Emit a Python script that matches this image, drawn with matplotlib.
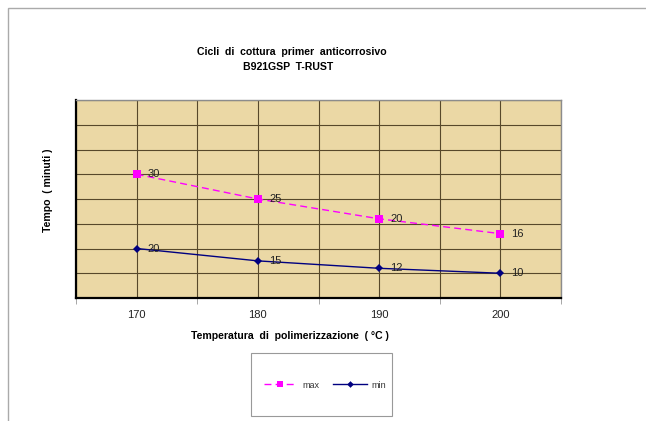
import numpy as np
import matplotlib.pyplot as plt
from matplotlib.patches import Rectangle

plt.switch_backend('Agg')
plt.rcParams['font.family'] = ['Liberation Sans', 'DejaVu Sans']

# dati
temperature = ['170', '180', '190', '200']
tempo_max = [30, 25, 20, 16]
tempo_min = [20, 15, 12, 10]

# grafico a linee in pila (come Excel): la serie max si somma alla min
x = np.arange(len(temperature))
y_min = np.array(tempo_min)
y_max = y_min + np.array(tempo_max)

W, H = 646, 421
fig = plt.figure(figsize=(W / 100, H / 100), dpi=100)
ax = fig.add_axes([76 / W, 1 - 298 / H, 485 / W, 198 / H])

ax.set_facecolor('#ebd8a5')
ax.plot(x, y_max, color='#ff00ff', linestyle=(0, (5, 3)), linewidth=1,
        marker='s', markersize=5.5, markeredgewidth=0, label='max', zorder=3)
ax.plot(x, y_min, color='#000080', linewidth=1,
        marker='D', markersize=4.5, markeredgewidth=0, label='min', zorder=3)

for xi, yv, lab in zip(x, y_max, tempo_max):
    ax.annotate(str(lab), (xi, yv), xytext=(8, 0), textcoords='offset points',
                va='center', ha='left', fontsize=8, color='#222222')
for xi, yv, lab in zip(x, y_min, tempo_min):
    ax.annotate(str(lab), (xi, yv), xytext=(8, 0), textcoords='offset points',
                va='center', ha='left', fontsize=8, color='#222222')

ax.set_xlim(-0.5, len(temperature) - 0.5)
ax.set_ylim(0, 80)
ax.set_xticks(x)
ax.set_xticklabels(temperature, fontsize=8, color='#222222')
ax.set_xticks(np.arange(-0.5, len(temperature)), minor=True)
ax.tick_params(axis='x', which='major', length=0, pad=9)
ax.tick_params(axis='x', which='minor', length=4, color='#999999')
ax.set_yticks(np.arange(0, 81, 10))
ax.tick_params(axis='y', length=0, labelleft=False)

ax.grid(True, which='both', axis='x', color='#57482a', linewidth=0.8)
ax.grid(True, axis='y', color='#57482a', linewidth=0.8)
ax.set_axisbelow(True)

for side in ['top', 'right']:
    ax.spines[side].set_color('#8c8c8c')
    ax.spines[side].set_linewidth(1)
for side in ['left', 'bottom']:
    ax.spines[side].set_color('black')
    ax.spines[side].set_linewidth(1.6)

fig.text(292 / W, 1 - 52 / H, 'Cicli  di  cottura  primer  anticorrosivo',
         ha='center', va='center', fontsize=7.6, fontweight='bold')
fig.text(288 / W, 1 - 67 / H, 'B921GSP  T-RUST',
         ha='center', va='center', fontsize=7.6, fontweight='bold')
fig.text(290 / W, 1 - 336 / H, 'Temperatura  di  polimerizzazione  ( °C )',
         ha='center', va='center', fontsize=7.6, fontweight='bold')
fig.text(48 / W, 1 - 190 / H, 'Tempo  ( minuti )', rotation=90,
         ha='center', va='center', fontsize=7.6, fontweight='bold')

leg = fig.legend(loc='center', bbox_to_anchor=(325 / W, 1 - 385 / H), ncol=2,
                 fontsize=6.5, frameon=False, handlelength=3.7, markerscale=0.75,
                 columnspacing=1.6, handletextpad=0.55, borderaxespad=0)
for t in leg.get_texts():
    t.set_color('#333333')

# riquadro della legenda
fig.add_artist(Rectangle((251 / W, 1 - 416 / H), 141 / W, 63 / H, fill=False,
                         edgecolor='#999999', linewidth=0.8,
                         transform=fig.transFigure))

# cornice grigia del grafico
fig.add_artist(Rectangle((8 / W, -0.1), 1.2, 1.1 - 8 / H, fill=False,
                         edgecolor='#aaaaaa', linewidth=1,
                         transform=fig.transFigure))

fig.savefig('out.png', dpi=100)
